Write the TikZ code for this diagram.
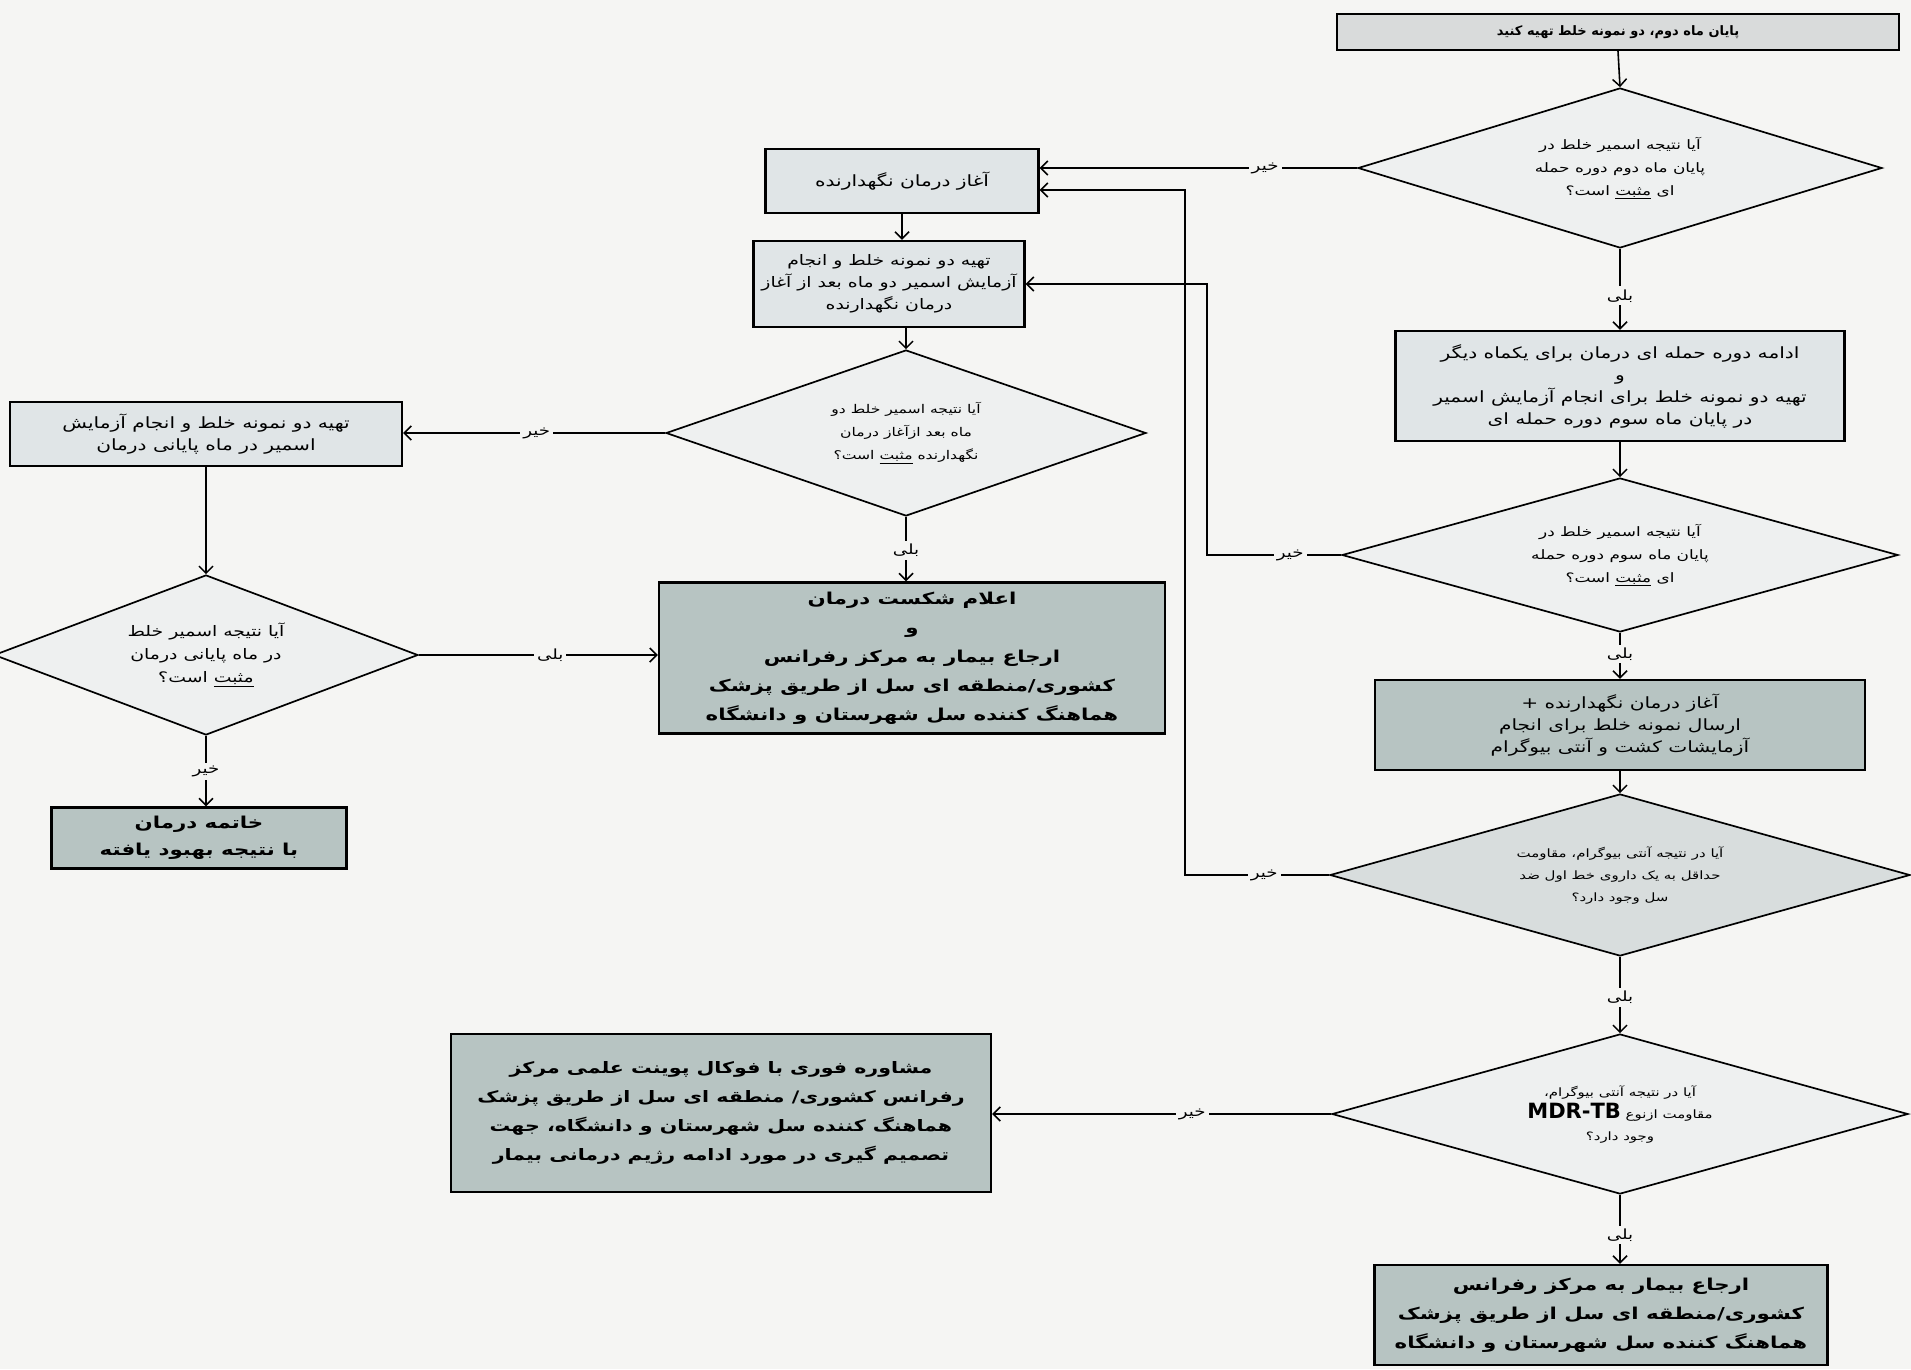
\documentclass[tikz,border=0pt]{standalone}
\usepackage{fontspec}
\usetikzlibrary{arrows.meta,shapes.geometric,calc}
\newfontfamily\fa[Script=Arabic,FakeStretch=1.3]{DejaVu Sans}
\newfontfamily\fb[Script=Arabic]{DejaVu Sans}
\TeXXeTstate=1
\newcommand\rtxt[1]{\beginR #1\endR}
\definecolor{bg}{HTML}{F5F5F3}
\definecolor{boxlight}{HTML}{E0E5E7}
\definecolor{boxdark}{HTML}{B7C4C2}
\definecolor{topfill}{HTML}{D9DBDB}
\definecolor{dialight}{HTML}{EEF0F0}
\definecolor{diagray}{HTML}{D8DDDD}
\begin{document}
\begin{tikzpicture}[x=1pt,y=-1pt,
  box/.style={draw=black, line width=2.4pt, fill=boxlight, align=center,
    font=\fa\fontsize{15.5}{22}\selectfont, inner sep=2pt},
  darkbox/.style={box, fill=boxdark, font=\fa\bfseries\fontsize{16.4}{29}\selectfont},
  dia/.style={diamond, draw=black, line width=1.7pt, fill=dialight, align=center,
    font=\fa\fontsize{13}{23}\selectfont, inner sep=0pt, aspect=3.3},
  smalldia/.style={dia, font=\fa\fontsize{11.5}{22}\selectfont},
  arr/.style={line width=1.6pt, -{Straight Barb[length=7pt,width=14pt,line width=1.5pt]}},
  lbl/.style={fill=bg, inner sep=3pt, font=\fa\fontsize{14}{16}\selectfont}]
\fill[bg] (0,0) rectangle (1911,1369);
\useasboundingbox (0,0) rectangle (1911,1369);

% right column
\node[box, fill=topfill, font=\fb\bfseries\fontsize{13}{18}\selectfont,
  minimum width=562, minimum height=36] (top) at (1618,32)
  {\rtxt{پایان ماه دوم، دو نمونه خلط تهیه کنید}};
\node[dia, minimum width=524, minimum height=160] (d1) at (1620,168)
  {\rtxt{آیا نتیجه اسمیر خلط در}\\ \rtxt{پایان ماه دوم دوره حمله}\\ \rtxt{ای \underline{مثبت} است؟}};
\node[box, minimum width=449, minimum height=110] (h) at (1620,386)
  {\rtxt{ادامه دوره حمله ای درمان برای یکماه دیگر}\\ \rtxt{و}\\
   \rtxt{تهیه دو نمونه خلط برای انجام آزمایش اسمیر}\\ \rtxt{در پایان ماه سوم دوره حمله ای}};
\node[dia, minimum width=556, minimum height=154] (j) at (1620,555)
  {\rtxt{آیا نتیجه اسمیر خلط در}\\ \rtxt{پایان ماه سوم دوره حمله}\\ \rtxt{ای \underline{مثبت} است؟}};
\node[box, fill=boxdark, minimum width=490, minimum height=90] (k) at (1620,725)
  {\rtxt{آغاز درمان نگهدارنده +}\\ \rtxt{ارسال نمونه خلط برای انجام}\\ \rtxt{آزمایشات کشت و آنتی بیوگرام}};
\node[smalldia, fill=diagray, minimum width=580, minimum height=162] (l) at (1620,875)
  {\rtxt{آیا در نتیجه آنتی بیوگرام، مقاومت}\\ \rtxt{حداقل به یک داروی خط اول ضد}\\ \rtxt{سل وجود دارد؟}};
\node[smalldia, minimum width=576, minimum height=160] (m) at (1620,1114)
  {\rtxt{آیا در نتیجه آنتی بیوگرام،}\\
   \rtxt{مقاومت ازنوع \beginL{\fb\bfseries\fontsize{21}{22}\selectfont MDR-TB}\endL}\\ \rtxt{وجود دارد؟}};
\node[darkbox, minimum width=453, minimum height=100] (o) at (1601,1315)
  {\rtxt{ارجاع بیمار به مرکز رفرانس}\\ \rtxt{کشوری/منطقه ای سل از طریق پزشک}\\ \rtxt{هماهنگ کننده سل شهرستان و دانشگاه}};
\node[darkbox, minimum width=540, minimum height=158, font=\fa\bfseries\fontsize{15.8}{29}\selectfont] (n) at (721,1113)
  {\rtxt{مشاوره فوری با فوکال پوینت علمی مرکز}\\ \rtxt{رفرانس کشوری/ منطقه ای سل از طریق پزشک}\\
   \rtxt{هماهنگ کننده سل شهرستان و دانشگاه، جهت}\\ \rtxt{تصمیم گیری در مورد ادامه رژیم درمانی بیمار}};

% middle column
\node[box, minimum width=273, minimum height=64] (a) at (902,181)
  {\rtxt{آغاز درمان نگهدارنده}};
\node[box, minimum width=271, minimum height=86, font=\fa\fontsize{14.5}{22}\selectfont] (b) at (889,284)
  {\rtxt{تهیه دو نمونه خلط و انجام}\\ \rtxt{آزمایش اسمیر دو ماه بعد از آغاز}\\ \rtxt{درمان نگهدارنده}};
\node[dia, minimum width=480, minimum height=166, font=\fa\fontsize{12}{23}\selectfont] (c) at (906,433)
  {\rtxt{آیا نتیجه اسمیر خلط دو}\\ \rtxt{ماه بعد ازآغاز درمان}\\ \rtxt{نگهدارنده \underline{مثبت} است؟}};
\node[darkbox, minimum width=506, minimum height=151] (f) at (912,658)
  {\rtxt{اعلام شکست درمان}\\ \rtxt{و}\\ \rtxt{ارجاع بیمار به مرکز رفرانس}\\
   \rtxt{کشوری/منطقه ای سل از طریق پزشک}\\ \rtxt{هماهنگ کننده سل شهرستان و دانشگاه}};

% left column
\node[box, minimum width=392, minimum height=64] (dd) at (206,434)
  {\rtxt{تهیه دو نمونه خلط و انجام آزمایش}\\ \rtxt{اسمیر در ماه پایانی درمان}};
\node[dia, minimum width=424, minimum height=160, font=\fa\fontsize{14.5}{23}\selectfont] (e) at (206,655)
  {\rtxt{آیا نتیجه اسمیر خلط}\\ \rtxt{در ماه پایانی درمان}\\ \rtxt{\underline{مثبت} است؟}};
\node[darkbox, minimum width=295, minimum height=61, font=\fa\bfseries\fontsize{16.4}{27}\selectfont] (g) at (199,838)
  {\rtxt{خاتمه درمان}\\ \rtxt{با نتیجه بهبود یافته}};

\coordinate (jx) at (1207,555);
\coordinate (lx) at (1185,875);
\coordinate (ax) at (1185,190);

% connectors right column
\draw[arr] (top.south) -- (d1.north);
\draw[arr] (d1.south) -- node[lbl,pos=0.58]{\rtxt{بلی}} (h.north);
\draw[arr] (h.south) -- (j.north);
\draw[arr] (j.south) -- node[lbl,pos=0.46]{\rtxt{بلی}} (k.north);
\draw[arr] (k.south) -- (l.north);
\draw[arr] (l.south) -- node[lbl,pos=0.53]{\rtxt{بلی}} (m.north);
\draw[arr] (m.south) -- node[lbl,pos=0.58]{\rtxt{بلی}} (m.south |- o.north);
\draw[arr] (d1.west) -- node[lbl,pos=0.29]{\rtxt{خیر}} (d1.west -| a.east);
\draw[arr] (j.west) -- node[lbl,pos=0.38]{\rtxt{خیر}} (jx) -- (jx |- b.east) -- (b.east);
\draw[arr] (l.west) -- node[lbl,pos=0.45]{\rtxt{خیر}} (lx) -- (ax) -- (ax -| a.east);
\draw[arr] (m.west) -- node[lbl,pos=0.41]{\rtxt{خیر}} (m.west -| n.east);

% connectors middle/left
\draw[arr] (a.south) -- (a.south |- b.north);
\draw[arr] (b.south -| c.north) -- (c.north);
\draw[arr] (c.west) -- node[lbl,pos=0.49]{\rtxt{خیر}} (c.west -| dd.east);
\draw[arr] (c.south) -- node[lbl,pos=0.52]{\rtxt{بلی}} (c.south |- f.north);
\draw[arr] (dd.south) -- (e.north);
\draw[arr] (e.east) -- node[lbl,pos=0.55]{\rtxt{بلی}} (e.east -| f.west);
\draw[arr] (e.south) -- node[lbl,pos=0.5]{\rtxt{خیر}} (e.south |- g.north);
\end{tikzpicture}
\end{document}
